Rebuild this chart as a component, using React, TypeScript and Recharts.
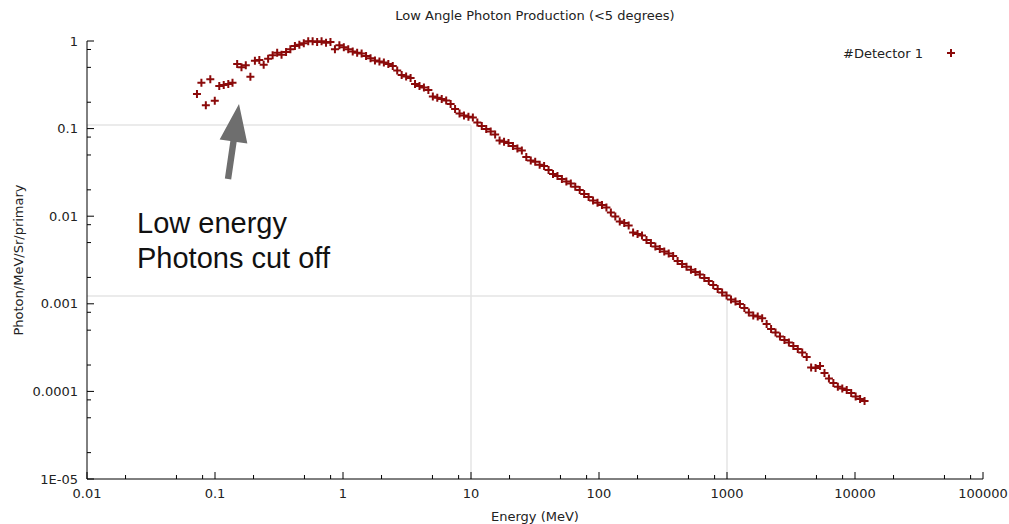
import React from "react";
import { ScatterChart, Scatter, XAxis, YAxis, ReferenceLine } from "recharts";

// bin energies (MeV) and photon yield
const energy = [
  0.0723, 0.0783, 0.0848, 0.0919, 0.0996, 0.108, 0.117, 0.127, 0.137, 0.149,
  0.161, 0.174, 0.189, 0.205, 0.222, 0.24, 0.26, 0.282, 0.306, 0.331,
  0.359, 0.388, 0.421, 0.456, 0.494, 0.535, 0.579, 0.628, 0.68, 0.737,
  0.798, 0.865, 0.937, 1.015, 1.099, 1.191, 1.29, 1.398, 1.514, 1.641,
  1.777, 1.926, 2.086, 2.26, 2.448, 2.652, 2.873, 3.113, 3.373, 3.654,
  3.958, 4.288, 4.645, 5.033, 5.452, 5.906, 6.399, 6.932, 7.51, 8.136,
  8.814, 9.55, 10.34, 11.21, 12.14, 13.15, 14.25, 15.44, 16.72, 18.12,
  19.63, 21.27, 23.04, 24.96, 27.04, 29.3, 31.74, 34.39, 37.25, 40.36,
  43.72, 47.37, 51.31, 55.59, 60.23, 65.25, 70.69, 76.56, 82.96, 89.85,
  97.34, 105.5, 114.3, 123.8, 134.1, 145.3, 157.4, 170.5, 184.7, 200.1,
  216.8, 234.9, 254.4, 275.6, 298.6, 323.5, 350.4, 379.6, 411.3, 445.6,
  482.7, 522.9, 566.5, 613.8, 664.9, 720.3, 780.4, 845.5, 915.9, 992.2,
  1075, 1165, 1262, 1367, 1481, 1604, 1738, 1883, 2040, 2210,
  2394, 2593, 2810, 3044, 3298, 3572, 3870, 4193, 4543, 4920,
  5331, 5775, 6256, 6777, 7343, 7955, 8617, 9337, 10116, 10958,
  11872,
];

const photons = [
  0.248, 0.334, 0.1845, 0.365, 0.208, 0.306, 0.315, 0.323, 0.334, 0.546,
  0.501, 0.528, 0.391, 0.596, 0.607, 0.536, 0.628, 0.687, 0.735, 0.698,
  0.749, 0.804, 0.877, 0.907, 0.941, 0.995, 0.992, 0.974, 0.992, 0.956,
  0.974, 0.804, 0.893, 0.847, 0.804, 0.759, 0.735, 0.72, 0.674, 0.635,
  0.599, 0.583, 0.568, 0.546, 0.518, 0.46, 0.409, 0.393, 0.378, 0.323,
  0.306, 0.294, 0.276, 0.2325, 0.2247, 0.2177, 0.2093, 0.1909, 0.1674, 0.1487,
  0.1411, 0.1364, 0.1339, 0.1174, 0.1071, 0.0989, 0.0927, 0.0856, 0.0731, 0.0709,
  0.0685, 0.0633, 0.0593, 0.0562, 0.0474, 0.0432, 0.0419, 0.0386, 0.0374, 0.0337,
  0.0303, 0.0288, 0.0266, 0.0249, 0.0236, 0.0217, 0.0199, 0.0179, 0.0166, 0.0151,
  0.0142, 0.0134, 0.01257, 0.01102, 0.00992, 0.0087, 0.00837, 0.00783, 0.00652, 0.00626,
  0.00602, 0.00535, 0.00494, 0.00451, 0.00422, 0.00395, 0.00375, 0.00351, 0.00308, 0.00285,
  0.00265, 0.00244, 0.00231, 0.00216, 0.00197, 0.00182, 0.00164, 0.00148, 0.00135, 0.00124,
  0.00112, 0.00106, 0.000995, 0.000896, 0.000796, 0.000735, 0.000716, 0.000683, 0.000588, 0.000516,
  0.00047, 0.000423, 0.000386, 0.000361, 0.00033, 0.000305, 0.000278, 0.000247, 0.000187, 0.000185,
  0.000195, 0.000162, 0.00014, 0.000125, 0.000113, 0.000108, 0.000104, 0.0000959, 0.0000875, 0.0000819,
  0.0000777,
];

const xMajor = [0.01, 0.1, 1, 10, 100, 1000, 10000, 100000];
const xLabels = ["0.01", "0.1", "1", "10", "100", "1000", "10000", "100000"];
const yMajor = [0.00001, 0.0001, 0.001, 0.01, 0.1, 1];
const yLabels = ["1E-05", "0.0001", "0.001", "0.01", "0.1", "1"];
const minorSteps = [2, 5, 8];

const RED = "#8b0a0a";
const TICK_FONT = "DejaVu Sans, sans-serif";

const data = energy.map((e, i) => ({ e, v: photons[i] }));

const withMinor = (majors: number[]) => [
  ...majors,
  ...majors.slice(0, -1).flatMap((m) => minorSteps.map((s) => m * s)),
];
const xTicks = withMinor(xMajor);
const yTicks = withMinor(yMajor);

const labelFor = (value: number, majors: number[], labels: string[]) => {
  const i = majors.findIndex((m) => Math.abs(m - value) / m < 1e-6);
  return i >= 0 ? labels[i] : null;
};

const makeTick = (side: "bottom" | "top" | "left" | "right") => (props: any) => {
  const { x, y, payload } = props;
  const horiz = side === "bottom" || side === "top";
  const label = horiz
    ? labelFor(payload.value, xMajor, xLabels)
    : labelFor(payload.value, yMajor, yLabels);
  const len = label ? 7 : 4;
  let line;
  if (side === "bottom") line = <line x1={x} x2={x} y1={y} y2={y - len} />;
  else if (side === "top") line = <line x1={x} x2={x} y1={y} y2={y + len} />;
  else if (side === "left") line = <line x1={x} x2={x + len} y1={y} y2={y} />;
  else line = <line x1={x} x2={x - len} y1={y} y2={y} />;
  return (
    <g stroke="#000" strokeWidth={1}>
      {line}
      {label && side === "bottom" && (
        <text x={x} y={y + 19} textAnchor="middle" stroke="none" fill="#222" fontSize={13} fontFamily={TICK_FONT}>
          {label}
        </text>
      )}
      {label && side === "left" && (
        <text x={x - 9} y={y + 4.5} textAnchor="end" stroke="none" fill="#222" fontSize={13} fontFamily={TICK_FONT}>
          {label}
        </text>
      )}
    </g>
  );
};

const Plus = (props: any) => {
  const { cx, cy } = props;
  if (cx == null || cy == null) return <g />;
  return <path d={`M${cx - 4},${cy}h8M${cx},${cy - 4}v8`} stroke={RED} strokeWidth={2} />;
};

const Hidden = () => <g />;

const Arrow = (props: any) => {
  const { x1, y1, x2, y2 } = props;
  const dx = x2 - x1;
  const dy = y2 - y1;
  const len = Math.hypot(dx, dy);
  const ux = dx / len;
  const uy = dy / len;
  const nx = -uy;
  const ny = ux;
  const head = 38;
  const hw = 14;
  const sw = 3.2;
  const bx = x2 - ux * head;
  const by = y2 - uy * head;
  const pts = [
    [x1 + nx * sw, y1 + ny * sw],
    [bx + nx * sw, by + ny * sw],
    [bx + nx * hw, by + ny * hw],
    [x2, y2],
    [bx - nx * hw, by - ny * hw],
    [bx - nx * sw, by - ny * sw],
    [x1 - nx * sw, y1 - ny * sw],
  ]
    .map((p) => p.join(","))
    .join(" ");
  return <polygon points={pts} fill="#6e6e6e" />;
};

const GRID = "#e4e4e4";

export default function App() {
  return (
    <div style={{ position: "absolute", left: 0, top: 0, width: 1009, height: 524, background: "#fff" }}>
      <ScatterChart width={1009} height={524} margin={{ top: 41, right: 26, bottom: 0, left: 0 }}>
        <XAxis
          type="number"
          dataKey="e"
          scale="log"
          domain={[0.01, 100000]}
          ticks={xTicks}
          interval={0}
          height={45}
          tickSize={0}
          tickMargin={0}
          tickLine={false}
          axisLine={{ stroke: "#000" }}
          tick={makeTick("bottom")}
        />
        <XAxis
          xAxisId="top"
          orientation="top"
          type="number"
          dataKey="e"
          scale="log"
          domain={[0.01, 100000]}
          ticks={xTicks}
          interval={0}
          height={0}
          tickSize={0}
          tickMargin={0}
          tickLine={false}
          axisLine={{ stroke: "#000" }}
          tick={makeTick("top")}
        />
        <YAxis
          type="number"
          dataKey="v"
          scale="log"
          domain={[0.00001, 1]}
          ticks={yTicks}
          interval={0}
          width={87}
          tickSize={0}
          tickMargin={0}
          tickLine={false}
          axisLine={{ stroke: "#000" }}
          tick={makeTick("left")}
        />
        <YAxis
          yAxisId="right"
          orientation="right"
          type="number"
          dataKey="v"
          scale="log"
          domain={[0.00001, 1]}
          ticks={yTicks}
          interval={0}
          width={0}
          tickSize={0}
          tickMargin={0}
          tickLine={false}
          axisLine={{ stroke: "#000" }}
          tick={makeTick("right")}
        />
        <ReferenceLine segment={[{ x: 0.01, y: 0.11 }, { x: 10, y: 0.11 }]} stroke={GRID} strokeWidth={1.5} />
        <ReferenceLine segment={[{ x: 10, y: 0.00001 }, { x: 10, y: 0.11 }]} stroke={GRID} strokeWidth={1.5} />
        <ReferenceLine segment={[{ x: 0.01, y: 0.00123 }, { x: 1000, y: 0.00123 }]} stroke={GRID} strokeWidth={1.5} />
        <ReferenceLine segment={[{ x: 1000, y: 0.00001 }, { x: 1000, y: 0.00123 }]} stroke={GRID} strokeWidth={1.5} />
        <Scatter data={data} xAxisId="top" yAxisId="right" shape={Hidden} isAnimationActive={false} />
        <Scatter data={data} shape={Plus} isAnimationActive={false} />
        <ReferenceLine segment={[{ x: 0.1264, y: 0.0266 }, { x: 0.154, y: 0.191 }]} shape={Arrow} />
      </ScatterChart>
      <svg width={1009} height={524} style={{ position: "absolute", left: 0, top: 0, pointerEvents: "none" }}>
        <g fontFamily={TICK_FONT} fontSize={13} fill="#222">
          <text x={535} y={20} textAnchor="middle">Low Angle Photon Production (&lt;5 degrees)</text>
          <text x={535} y={521} textAnchor="middle">Energy (MeV)</text>
          <text transform="translate(22.5,260) rotate(-90)" textAnchor="middle">Photon/MeV/Sr/primary</text>
          <text x={843} y={57.5}>#Detector 1</text>
        </g>
        <path d="M947,53h8M951,49v8" stroke={RED} strokeWidth={2} />
        <g fontFamily="Liberation Sans, Arial, sans-serif" fontSize={29} fill="#111">
          <text x={137} y={233}>Low energy</text>
          <text x={137} y={268}>Photons cut off</text>
        </g>
      </svg>
    </div>
  );
}
